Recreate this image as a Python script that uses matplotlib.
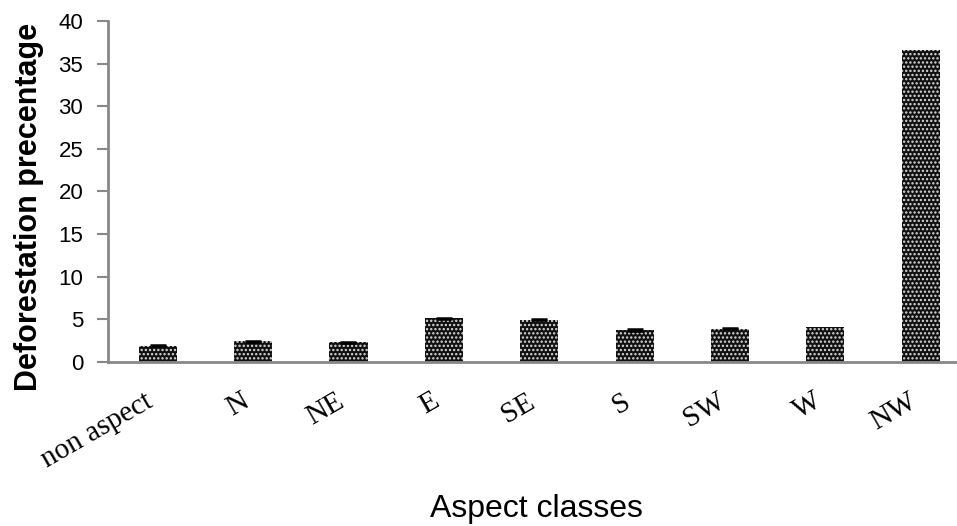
import matplotlib
matplotlib.use("Agg")
import matplotlib.pyplot as plt
import numpy as np

# aspect classes and deforestation percentage
classes = ['non aspect', 'N', 'NE', 'E', 'SE', 'S', 'SW', 'W', 'NW']
deforest_pct = [1.9, 2.4, 2.3, 5.1, 4.95, 3.75, 3.9, 4.1, 36.6]
err = [0.08, 0.08, 0.08, 0.08, 0.08, 0.08, 0.08, 0.0, 0.0]
yticks = [0, 5, 10, 15, 20, 25, 30, 35, 40]

plt.rcParams['hatch.linewidth'] = 1.1

fig = plt.figure(figsize=(9.57, 5.26), dpi=100)
ax = fig.add_axes([0.113, 0.312, 0.887, 0.648])

x = np.arange(len(classes))
ax.bar(x, deforest_pct, width=0.4, color='#111111', edgecolor='#dddddd',
       linewidth=0, hatch='....')

# small caps on top of the bars that have them
has_err = [i for i in range(len(err)) if err[i] > 0]
ax.errorbar(x[has_err], [deforest_pct[i] for i in has_err],
            yerr=[err[i] for i in has_err], fmt='none', ecolor='black',
            elinewidth=0, capsize=6, capthick=1.8)

ax.set_xlim(-0.52, 8.38)
ax.set_ylim(0, 40)
ax.set_yticks(yticks)
ax.set_yticklabels([str(t) for t in yticks], family='Liberation Sans', fontsize=16)

ax.set_xticks(x)
ax.set_xticklabels(classes, family='Liberation Serif', fontsize=21,
                   rotation=30, ha='right', va='top')
ax.tick_params(axis='x', length=0, pad=19)
ax.tick_params(axis='y', length=8, width=1.5, color='#888888', pad=10)

for side in ['top', 'right']:
    ax.spines[side].set_visible(False)
for side in ['left', 'bottom']:
    ax.spines[side].set_color('#888888')
    ax.spines[side].set_linewidth(2)

ax.set_ylabel('Deforestation precentage', family='Liberation Sans',
              fontsize=22, fontweight='bold')
ax.yaxis.set_label_coords(-0.076, 0.455)
fig.text(0.561, 1 - 517 / 526, 'Aspect classes', family='Liberation Sans',
         fontsize=23, ha='center', va='baseline')

fig.savefig('out.png', dpi=100)
